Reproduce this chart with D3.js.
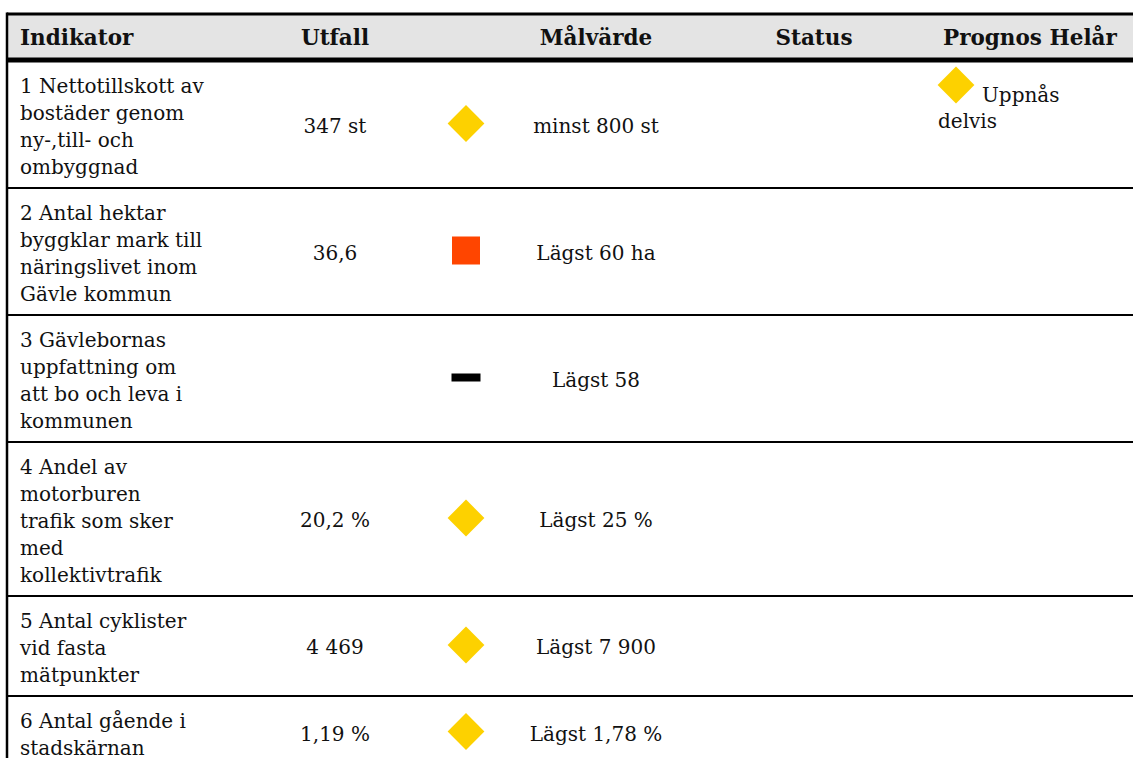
<!DOCTYPE html>
<html>
<head>
<meta charset="utf-8">
<script src="https://cdn.jsdelivr.net/npm/d3@7/dist/d3.min.js"></script>
<style>
  body { margin: 0; background: #fff; }
  svg text { font-family: Georgia, "DejaVu Serif", serif; fill: #111; }
</style>
</head>
<body>
<div id="chart"></div>
<script>
// ── Data ────────────────────────────────────────────────────────────
const headers = ["Indikator", "Utfall", "", "Målvärde", "Status", "Prognos Helår"];

const indicators = [
  "1 Nettotillskott av\nbostäder genom\nny-,till- och\nombyggnad",
  "2 Antal hektar\nbyggklar mark till\nnäringslivet inom\nGävle kommun",
  "3 Gävlebornas\nuppfattning om\natt bo och leva i\nkommunen",
  "4 Andel av\nmotorburen\ntrafik som sker\nmed\nkollektivtrafik",
  "5 Antal cyklister\nvid fasta\nmätpunkter",
  "6 Antal gående i\nstadskärnan"
];
const outcomes = ["347 st", "36,6", "", "20,2 %", "4 469", "1,19 %"];
const statuses = ["delvis", "ej", "saknas", "delvis", "delvis", "delvis"];
const targets = ["minst 800 st", "Lägst 60 ha", "Lägst 58", "Lägst 25 %", "Lägst 7 900", "Lägst 1,78 %"];
const forecastStatus = ["delvis", null, null, null, null, null];
const forecastText = ["Uppnås\ndelvis", "", "", "", "", ""];

// ── Layout ──────────────────────────────────────────────────────────
const W = 1133, H = 758;
const tableLeft = 7, tableTop = 14, headBottom = 61;
const lineH = 27, padY = 9.5;
const FONT = 20, HEAD_FONT = 21.5;

const colKeys = ["ind", "utfall", "icon", "mal", "status", "prognos"];
const x = d3.scaleOrdinal().domain(colKeys).range([20, 335, 466, 596, 814, 943]);
const anchor = { ind: "start", utfall: "middle", icon: "middle", mal: "middle", status: "middle", prognos: "start" };

const STATUS_COLORS = { delvis: "#fdd100", ej: "#ff4500", saknas: "#000" };

const rows = indicators.map((txt, i) => ({
  lines: txt.split("\n"),
  outcome: outcomes[i],
  status: statuses[i],
  target: targets[i],
  fStatus: forecastStatus[i],
  fText: forecastText[i] ? forecastText[i].split("\n") : []
}));

// cumulative row tops
let yAcc = headBottom;
rows.forEach(r => {
  r.top = yAcc;
  r.h = r.lines.length * lineH + 2 * padY;
  yAcc += r.h;
});

const svg = d3.select("#chart").append("svg")
  .attr("width", W).attr("height", H)
  .attr("viewBox", `0 0 ${W} ${H}`);

svg.append("rect").attr("width", W).attr("height", H).attr("fill", "#fff");

// header background
svg.append("rect")
  .attr("x", tableLeft).attr("y", tableTop)
  .attr("width", W - tableLeft).attr("height", headBottom - tableTop)
  .attr("fill", "#e4e4e4");

// header labels
svg.append("g").selectAll("text")
  .data(colKeys.map((k, i) => ({ k, label: headers[i] })).filter(d => d.label))
  .join("text")
  .attr("x", d => x(d.k))
  .attr("y", 45)
  .attr("text-anchor", d => anchor[d.k])
  .attr("font-size", HEAD_FONT)
  .attr("font-weight", "bold")
  .text(d => d.label);

// rows
const rowG = svg.append("g").selectAll("g.row")
  .data(rows)
  .join("g")
  .attr("class", "row")
  .attr("transform", d => `translate(0,${d.top})`);

// indicator text (multi-line)
rowG.append("text")
  .attr("font-size", FONT)
  .attr("text-anchor", "start")
  .selectAll("tspan")
  .data(d => d.lines)
  .join("tspan")
  .attr("x", x("ind"))
  .attr("y", (d, i) => padY + lineH * i + 22)
  .text(d => d);

// outcome and target, vertically centred
rowG.append("text")
  .attr("x", x("utfall"))
  .attr("y", d => d.h / 2 + 8)
  .attr("text-anchor", "middle")
  .attr("font-size", FONT)
  .text(d => d.outcome);

rowG.append("text")
  .attr("x", x("mal"))
  .attr("y", d => d.h / 2 + 8)
  .attr("text-anchor", "middle")
  .attr("font-size", FONT)
  .text(d => d.target);

// status symbol
function drawSymbol(sel, status, cx, cy) {
  if (status === "delvis") {
    sel.append("rect")
      .attr("x", -13).attr("y", -13).attr("width", 26).attr("height", 26)
      .attr("transform", `translate(${cx},${cy}) rotate(45)`)
      .attr("fill", STATUS_COLORS.delvis);
  } else if (status === "ej") {
    sel.append("rect")
      .attr("x", cx - 14).attr("y", cy - 14).attr("width", 28).attr("height", 28)
      .attr("fill", STATUS_COLORS.ej);
  } else if (status === "saknas") {
    sel.append("rect")
      .attr("x", cx - 14.5).attr("y", cy - 4).attr("width", 29).attr("height", 8)
      .attr("fill", STATUS_COLORS.saknas);
  }
}

rowG.each(function (d) {
  const g = d3.select(this);
  drawSymbol(g, d.status, x("icon"), d.h / 2 - 1);
  if (d.fStatus) {
    drawSymbol(g, d.fStatus, 956, 24);
    const t = g.append("text").attr("font-size", FONT);
    t.append("tspan").attr("x", 982).attr("y", 41).text(d.fText[0]);
    t.append("tspan").attr("x", 938).attr("y", 67).text(d.fText[1]);
  }
});

// ── Rules ────────────────────────────────────────────────────────────
const rules = svg.append("g");
rules.append("line")
  .attr("x1", tableLeft).attr("x2", W)
  .attr("y1", tableTop).attr("y2", tableTop)
  .attr("stroke", "#000").attr("stroke-width", 3);
rules.append("line")
  .attr("x1", tableLeft).attr("x2", W)
  .attr("y1", headBottom - 1).attr("y2", headBottom - 1)
  .attr("stroke", "#000").attr("stroke-width", 5);
rules.selectAll("line.row-rule")
  .data(rows.slice(1))
  .join("line")
  .attr("class", "row-rule")
  .attr("x1", tableLeft).attr("x2", W)
  .attr("y1", d => d.top).attr("y2", d => d.top)
  .attr("stroke", "#000").attr("stroke-width", 2);
rules.append("line")
  .attr("x1", tableLeft).attr("x2", tableLeft)
  .attr("y1", tableTop - 1.5).attr("y2", H)
  .attr("stroke", "#000").attr("stroke-width", 2.5);
</script>
</body>
</html>
